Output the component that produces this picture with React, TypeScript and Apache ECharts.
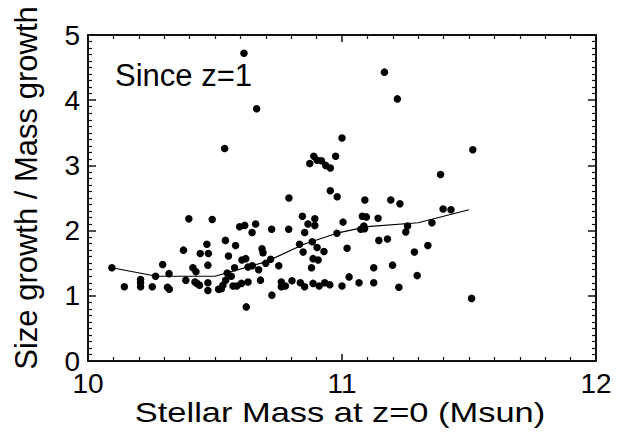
import React, { useEffect, useRef } from "react";
import * as echarts from "echarts";

const massValues = [
  10.094, 10.143, 10.207, 10.207, 10.207, 10.253, 10.266, 10.294, 10.319, 10.313,
  10.320, 10.376, 10.397, 10.385, 10.413, 10.425, 10.421, 10.429, 10.439, 10.442,
  10.468, 10.474, 10.472, 10.472, 10.472, 10.489, 10.514, 10.541, 10.553, 10.548,
  10.564, 10.542, 10.531, 10.525, 10.577, 10.571, 10.586, 10.604, 10.581, 10.597,
  10.617, 10.606, 10.621, 10.630, 10.623, 10.630, 10.647, 10.646, 10.660, 10.672,
  10.679, 10.685, 10.689, 10.700, 10.719, 10.723, 10.724, 10.751, 10.761, 10.761,
  10.777, 10.790, 10.803, 10.833, 10.844, 10.866, 10.893, 10.893, 10.853, 10.847,
  10.883, 10.902, 10.929, 10.886, 10.906, 10.880, 10.836, 10.853, 10.886, 10.910,
  10.932, 10.952, 10.980, 11.004, 11.020, 11.000, 11.028, 11.067, 11.074, 11.080,
  11.096, 11.086, 11.089, 11.125, 11.125, 11.142, 11.145, 11.179, 11.199, 11.224,
  11.251, 11.258, 11.285, 11.296, 11.338, 11.354, 11.398, 11.429, 11.510, 11.090,
  11.192, 11.228, 11.388, 11.515, 11.167, 11.218, 11.000, 10.975, 10.954, 10.936,
  10.919, 10.902, 10.889, 10.873, 10.954, 10.981, 10.791, 10.614, 10.664, 10.538,
];

const ratioValues = [
  1.43, 1.14, 1.25, 1.20, 1.14, 1.14, 1.30, 1.48, 1.34, 1.13,
  1.10, 1.70, 2.18, 1.24, 1.43, 1.37, 1.21, 1.19, 1.16, 1.65,
  1.79, 1.65, 1.47, 1.20, 1.08, 2.17, 1.10, 1.85, 1.61, 1.35,
  1.30, 1.24, 1.16, 1.11, 1.43, 1.15, 1.15, 1.19, 1.77, 2.06,
  2.08, 1.55, 1.57, 1.21, 0.83, 1.44, 1.46, 1.97, 2.10, 1.40,
  1.24, 1.72, 1.66, 1.50, 1.56, 2.02, 1.01, 1.46, 1.21, 1.14,
  1.15, 2.02, 1.23, 1.79, 2.22, 2.10, 2.18, 2.08, 1.97, 1.67,
  1.83, 1.74, 1.68, 1.57, 1.55, 1.43, 1.20, 1.14, 1.19, 1.15,
  1.20, 1.17, 1.96, 2.13, 1.73, 1.15, 1.29, 1.20, 2.02, 2.22,
  2.21, 2.07, 2.03, 1.43, 1.20, 2.19, 1.85, 1.87, 1.47, 1.13,
  1.98, 2.07, 1.67, 1.31, 1.77, 2.12, 2.33, 2.32, 0.96, 2.47,
  2.47, 2.41, 2.86, 3.24, 4.43, 4.02, 3.42, 3.14, 2.96, 3.00,
  3.07, 3.08, 3.14, 3.03, 2.61, 2.52, 2.50, 4.72, 3.87, 3.26,
];

const medianMass = [10.094, 10.27, 10.50, 10.70, 10.85, 10.98, 11.10, 11.30, 11.50];
const medianRatio = [1.43, 1.30, 1.30, 1.52, 1.79, 1.96, 2.06, 2.12, 2.32];

const xTicks = [10, 11, 12];
const yTicks = [0, 1, 2, 3, 4, 5];

const xTitle = "Stellar Mass at z=0 (Msun)";
const yTitle = "Size growth / Mass growth";
const noteText = "Since z=1";

const FONT = "'Liberation Sans', Arial, Helvetica, sans-serif";
const INK = "#111111";

export default function App() {
  const ref = useRef<HTMLDivElement>(null);
  useEffect(() => {
    if (!ref.current) return;
    const chart = echarts.init(ref.current, undefined, { renderer: "svg" });
    const points = massValues.map((m, i) => [m, ratioValues[i]]);
    const median = medianMass.map((m, i) => [m, medianRatio[i]]);
    chart.setOption({
      animation: false,
      grid: { left: 88, right: 27, top: 35, bottom: 82, show: false },
      xAxis: [
        {
          type: "value", min: xTicks[0], max: xTicks[xTicks.length - 1], interval: 1, position: "bottom",
          axisLine: { show: true, onZero: false, lineStyle: { color: INK, width: 2 } },
          axisTick: { show: true, inside: true, length: 7, lineStyle: { color: INK, width: 1.5 } },
          minorTick: { show: true, splitNumber: 10, length: 4, lineStyle: { color: INK, width: 1.2 } },
          splitLine: { show: false },
          axisLabel: { color: "#000", fontSize: 28, fontFamily: FONT },
        },
        {
          type: "value", min: xTicks[0], max: xTicks[xTicks.length - 1], interval: 1, position: "top",
          axisLine: { show: true, onZero: false, lineStyle: { color: INK, width: 2 } },
          axisTick: { show: true, inside: true, length: 7, lineStyle: { color: INK, width: 1.5 } },
          minorTick: { show: true, splitNumber: 10, length: 4, lineStyle: { color: INK, width: 1.2 } },
          splitLine: { show: false },
          axisLabel: { show: false },
        },
      ],
      yAxis: [
        {
          type: "value", min: yTicks[0], max: yTicks[yTicks.length - 1], interval: 1, position: "left",
          axisLine: { show: true, onZero: false, lineStyle: { color: INK, width: 2 } },
          axisTick: { show: true, inside: true, length: 8, lineStyle: { color: INK, width: 1.5 } },
          minorTick: { show: true, splitNumber: 10, length: 4, lineStyle: { color: INK, width: 1.2 } },
          splitLine: { show: false },
          axisLabel: { color: "#000", fontSize: 28, fontFamily: FONT },
        },
        {
          type: "value", min: yTicks[0], max: yTicks[yTicks.length - 1], interval: 1, position: "right",
          axisLine: { show: true, onZero: false, lineStyle: { color: INK, width: 2 } },
          axisTick: { show: true, inside: true, length: 8, lineStyle: { color: INK, width: 1.5 } },
          minorTick: { show: true, splitNumber: 10, length: 4, lineStyle: { color: INK, width: 1.2 } },
          splitLine: { show: false },
          axisLabel: { show: false },
        },
      ],
      graphic: [
        {
          type: "text",
          x: 340,
          y: 413,
          scaleX: 1.23,
          style: { text: xTitle, fontSize: 28, fontFamily: FONT, fill: "#000", align: "center", verticalAlign: "middle" },
        },
        {
          type: "text",
          x: 26,
          y: 188,
          rotation: Math.PI / 2,
          style: { text: yTitle, fontSize: 31, fontFamily: FONT, fill: "#000", align: "center", verticalAlign: "middle" },
        },
        {
          type: "text",
          x: 115,
          y: 75,
          style: { text: noteText, fontSize: 31, fontFamily: FONT, fill: "#000", align: "left", verticalAlign: "middle" },
        },
      ],
      series: [
        {
          type: "line",
          data: median,
          showSymbol: false,
          lineStyle: { color: "#000", width: 1.2 },
        },
        {
          type: "scatter",
          data: points,
          symbolSize: 7.5,
          itemStyle: { color: "#000", opacity: 1 },
        },
      ],
    });
    return () => chart.dispose();
  }, []);
  return (
    <div style={{ position: "absolute", left: 0, top: 0, width: 623, height: 443 }}>
      <div ref={ref} style={{ width: 623, height: 443 }} />
    </div>
  );
}
